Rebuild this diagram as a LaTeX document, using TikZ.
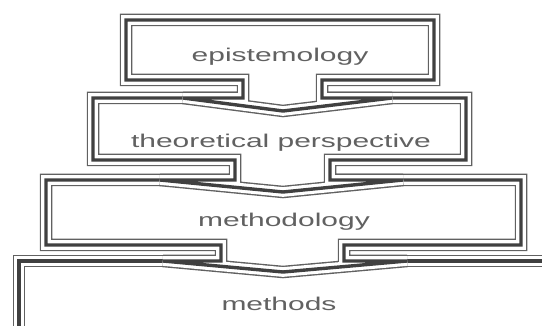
\documentclass[tikz,border=0pt]{standalone}
\usepackage{fontspec}
\setmainfont{Liberation Sans}
\begin{document}
\begin{tikzpicture}[x=1pt,y=-1pt,
  tri/.style={draw=black!62, line width=12.5pt, fill=white, line join=miter, miter limit=3,
     postaction={draw=white, line width=9.7pt},
     postaction={draw=black!75, line width=3.4pt}},
  lbl/.style={anchor=base, text=black!62, inner sep=0pt, font=\fontsize{18.5}{22}\selectfont}]
\useasboundingbox (0,0) rectangle (542,326);
\clip (0,0) rectangle (542,326);
\fill[white] (0,0) rectangle (542,326);
% box 4: methods
\path[tri] (19,261) -- (570,261) -- (570,332) -- (19,332) -- cycle;
% box 3: methodology
\path[tri] (46,180) -- (521,180) -- (521,245) -- (344,245) -- (344,261) -- (407,261)
  -- (283,272) -- (163,261) -- (221,261) -- (221,245) -- (46,245) -- cycle;
% box 2: theoretical perspective
\path[tri] (93,98) -- (466,98) -- (466,160) -- (330,160) -- (330,180) -- (403,180)
  -- (283,192) -- (160,180) -- (235,180) -- (235,160) -- (93,160) -- cycle;
% box 1: epistemology
\path[tri] (126,20) -- (434,20) -- (434,80) -- (322,80) -- (322,98) -- (392,98)
  -- (283,111) -- (183,98) -- (243,98) -- (243,80) -- (126,80) -- cycle;
% labels
\node[lbl] (epi) at (280,62) {\scalebox{1.62}[1]{epistemology}};
\node[lbl] (theo) at (281,148) {\scalebox{1.62}[1]{theoretical perspective}};
\node[lbl] (methodo) at (284,227) {\scalebox{1.62}[1]{methodology}};
\node[lbl] (meth) at (279,311) {\scalebox{1.62}[1]{methods}};
\end{tikzpicture}
\end{document}
